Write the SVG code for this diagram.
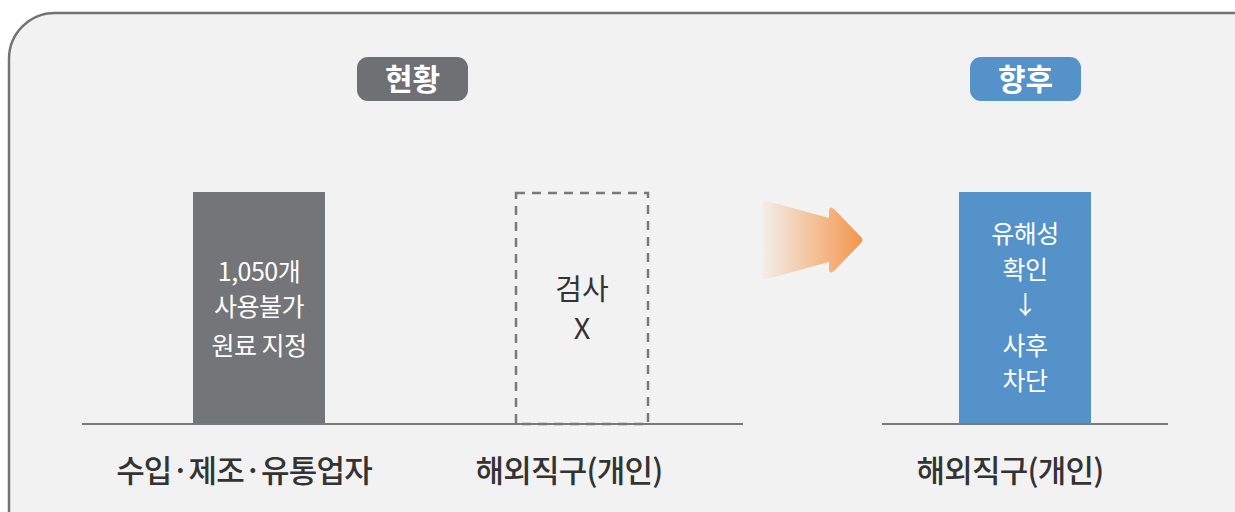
<svg xmlns="http://www.w3.org/2000/svg" width="1235" height="512" viewBox="0 0 1235 512">
<defs>
<linearGradient id="ag" x1="763" y1="0" x2="863" y2="0" gradientUnits="userSpaceOnUse">
<stop offset="0" stop-color="#f4954a" stop-opacity="0.05"/>
<stop offset="1" stop-color="#f4954a"/>
</linearGradient>
<style>
text{font-family:"Noto Sans CJK KR","Noto Sans",sans-serif;text-anchor:middle}
.w{fill:#ffffff;font-size:25px;letter-spacing:-0.5px}
.lbl{fill:#333333;font-size:31px;font-weight:500;letter-spacing:-0.8px}
.base{stroke:#7a7a7a;stroke-width:2}
.badge{font-size:30px;font-weight:700;fill:#ffffff}
</style>
</defs>
<rect width="1235" height="512" fill="#ffffff"/>
<rect id="frame" x="9" y="13" width="1270" height="560" rx="46" fill="#f2f2f2" stroke="#737373" stroke-width="2.5"/>
<g id="badge-now">
<rect x="357" y="57" width="111" height="44" rx="11" fill="#6f7074"/>
<text class="badge" x="412.5" y="90">현황</text>
</g>
<g id="badge-future">
<rect x="970" y="57" width="111" height="44" rx="11" fill="#5592c9"/>
<text class="badge" x="1025.5" y="90">향후</text>
</g>
<g id="bar-supplier">
<rect x="193" y="192" width="132" height="232" fill="#747579"/>
<text class="w" x="259" y="281">1,050개</text>
<text class="w" x="259" y="316">사용불가</text>
<text class="w" x="259" y="355">원료 지정</text>
</g>
<g id="box-overseas">
<rect x="516" y="193" width="132" height="231" fill="none" stroke="#7a7a7a" stroke-width="2.5" stroke-dasharray="9 7"/>
<text x="582" y="300" fill="#333333" font-size="29">검사</text>
<text x="582" y="339" fill="#333333" font-size="29">X</text>
</g>
<g id="bar-future">
<rect x="959" y="192" width="132" height="232" fill="#5592c9"/>
<text class="w" x="1025" y="243">유해성</text>
<text class="w" x="1025" y="279">확인</text>
<text class="w" x="1025" y="314">↓</text>
<text class="w" x="1025" y="355">사후</text>
<text class="w" x="1025" y="390">차단</text>
</g>
<g id="connectors">
<line class="base" x1="82" y1="424" x2="743" y2="424"/>
<line class="base" x1="882" y1="424" x2="1168" y2="424"/>
<path d="M763 200 L829 218 L829 212 Q829 204 835 210 L861 237 Q864 240 861 243 L835 270 Q829 276 829 268 L829 262 L763 280 Z" fill="url(#ag)"/>
</g>
<g id="labels">
<text class="lbl" x="244" y="482">수입·제조·유통업자</text>
<text class="lbl" x="569" y="482">해외직구(개인)</text>
<text class="lbl" x="1010" y="482">해외직구(개인)</text>
</g>
</svg>
